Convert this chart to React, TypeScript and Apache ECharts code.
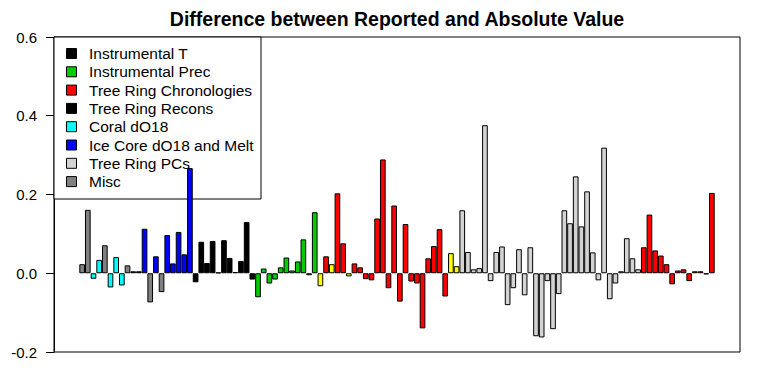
import React, { useEffect, useRef } from "react";
import * as echarts from "echarts";

const chartTitle = "Difference between Reported and Absolute Value";
const yMin = -0.2;
const yMax = 0.6;
const yInterval = 0.2;

// bar values, left to right
const values: number[] = [
  0.023, 0.161, -0.014, 0.034, 0.071, -0.036, 0.041, -0.031, 0.02, 0.005,
  0.005, 0.113, -0.074, 0.043, -0.048, 0.097, 0.025, 0.105, 0.048, 0.267,
  -0.023, 0.08, 0.026, 0.082, 0.002, 0.084, 0.039, 0.003, 0.031, 0.13,
  -0.016, -0.061, 0.012, -0.026, -0.016, 0.015, 0.04, 0.007, 0.03, 0.086,
  -0.005, 0.155, -0.033, 0.043, 0.023, 0.203, 0.076, -0.008, 0.025, 0.015,
  -0.015, -0.018, 0.139, 0.289, -0.038, 0.172, -0.072, 0.125, -0.021, -0.026,
  -0.14, 0.038, 0.069, 0.112, -0.059, 0.051, 0.018, 0.16, 0.054, 0.01,
  0.013, 0.376, -0.02, 0.054, 0.068, -0.081, -0.038, 0.061, -0.056, 0.066,
  -0.16, -0.163, -0.02, -0.142, -0.053, 0.16, 0.127, 0.246, 0.119, 0.208,
  0.053, -0.018, 0.319, -0.066, -0.026, 0.005, 0.089, 0.038, 0.01, 0.066,
  0.149, 0.058, 0.045, 0.023, -0.028, 0.007, 0.01, -0.02, 0.005, 0.005,
  -0.003, 0.204,
];

// proxy group of each bar
const groups: string[] = [
  "Misc", "Misc", "Coral", "Coral", "Misc", "Coral", "Coral", "Coral", "Misc", "InstT",
  "InstT", "Ice", "Misc", "Ice", "Misc", "Ice", "Ice", "Ice", "Ice", "Ice",
  "Recons", "Recons", "Recons", "Recons", "Recons", "Recons", "Recons", "Recons", "Recons", "Recons",
  "Recons", "Prec", "Prec", "Prec", "Prec", "Prec", "Prec", "Prec", "Prec", "Prec",
  "Prec", "Prec", "Other", "Chron", "Other", "Chron", "Chron", "Other", "Chron", "Chron",
  "Chron", "Chron", "Chron", "Chron", "Chron", "Chron", "Chron", "Chron", "Chron", "Chron",
  "Chron", "Chron", "Chron", "Chron", "Chron", "Other", "Other", "PCs", "PCs", "PCs",
  "PCs", "PCs", "PCs", "PCs", "PCs", "PCs", "PCs", "PCs", "PCs", "PCs",
  "PCs", "PCs", "PCs", "PCs", "PCs", "PCs", "PCs", "PCs", "PCs", "PCs",
  "PCs", "PCs", "PCs", "PCs", "PCs", "PCs", "PCs", "PCs", "PCs", "Chron",
  "Chron", "Chron", "Chron", "Chron", "Chron", "Chron", "Chron", "Chron", "Chron", "Chron",
  "Chron", "Chron",
];

const groupKeys = ["InstT", "Prec", "Chron", "Recons", "Coral", "Ice", "PCs", "Misc", "Other"];
const groupColors = ["#000000", "#00CC00", "#FF0000", "#000000", "#00FFFF", "#0000FF", "#D3D3D3", "#808080", "#FFFF00"];

const legendLabels = [
  "Instrumental T",
  "Instrumental Prec",
  "Tree Ring Chronologies",
  "Tree Ring Recons",
  "Coral dO18",
  "Ice Core dO18 and Melt",
  "Tree Ring PCs",
  "Misc",
];
const legendColors = ["#000000", "#00CC00", "#FF0000", "#000000", "#00FFFF", "#0000FF", "#D3D3D3", "#808080"];

const categories = values.map((_, i) => String(i + 1));

const FONT = '"Liberation Sans", Arial, sans-serif';

export default function App() {
  const ref = useRef<HTMLDivElement>(null);
  useEffect(() => {
    if (!ref.current) return;
    const chart = echarts.init(ref.current, undefined, { renderer: "svg" });

    const boxL = 54, boxT = 37, boxW = 686, boxH = 315;
    const barsL = 79.3, barsW = 635.4;

    const data = values.map((v, i) => ({
      value: v,
      itemStyle: { color: groupColors[groupKeys.indexOf(groups[i])] },
    }));

    const legendX = 54, legendY = 37, legendW = 207, legendH = 162;
    const rowY0 = 53.5, rowStep = 18.3;
    const legendGraphics: any[] = [
      {
        type: "rect",
        z: 1,
        shape: { x: legendX, y: legendY, width: legendW, height: legendH },
        style: { fill: "#ffffff", stroke: "#000000", lineWidth: 1 },
      },
    ];
    legendLabels.forEach((lab, i) => {
      const cy = rowY0 + i * rowStep;
      legendGraphics.push({
        type: "rect",
        z: 1,
        shape: { x: 66.5, y: cy - 5, width: 10, height: 10 },
        style: { fill: legendColors[i], stroke: "#000000", lineWidth: 1 },
      });
      legendGraphics.push({
        type: "text",
        z: 1,
        x: 89,
        y: cy,
        style: {
          text: lab,
          fill: "#000000",
          font: `15.5px ${FONT}`,
          textAlign: "left",
          textVerticalAlign: "middle",
        },
      });
    });

    chart.setOption({
      animation: false,
      backgroundColor: "#ffffff",
      grid: [
        { left: boxL, top: boxT, width: boxW, height: boxH, show: true, borderColor: "#000000", borderWidth: 1, backgroundColor: "transparent" },
        { left: barsL, top: boxT, width: barsW, height: boxH, show: false },
      ],
      xAxis: [
        { type: "value", gridIndex: 0, min: 0, max: 1, show: false },
        { type: "category", gridIndex: 1, data: categories, show: false, boundaryGap: true },
      ],
      yAxis: [
        {
          type: "value",
          gridIndex: 0,
          min: yMin,
          max: yMax,
          interval: yInterval,
          axisLine: { show: true, lineStyle: { color: "#000000", width: 1 } },
          axisTick: { show: true, length: 8, lineStyle: { color: "#000000", width: 1 } },
          splitLine: { show: false },
          axisLabel: {
            color: "#000000",
            fontSize: 15,
            fontFamily: FONT,
            margin: 17,
            formatter: (v: number) => v.toFixed(1),
          },
        },
        { type: "value", gridIndex: 1, min: yMin, max: yMax, show: false },
      ],
      graphic: [
        {
          type: "text",
          x: 397,
          y: 19,
          style: {
            text: chartTitle,
            fill: "#000000",
            font: `bold 19.5px ${FONT}`,
            textAlign: "center",
            textVerticalAlign: "middle",
          },
        },
        ...legendGraphics,
      ],
      series: [
        {
          type: "bar",
          xAxisIndex: 1,
          yAxisIndex: 1,
          data,
          barWidth: "100%",
          barCategoryGap: 0,
          z: 5,
          itemStyle: { borderColor: "#000000", borderWidth: 1 },
        },
      ],
    });
    return () => chart.dispose();
  }, []);
  return (
    <div
      ref={ref}
      style={{ position: "fixed", left: 0, top: 0, width: 757, height: 387, background: "#ffffff" }}
    />
  );
}
